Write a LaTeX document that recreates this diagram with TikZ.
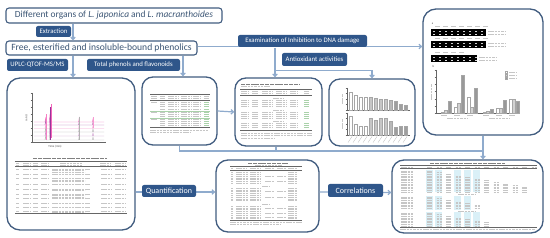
\documentclass[tikz,border=0pt]{standalone}
\usepackage{fontspec}
\setmainfont{Carlito}
\usetikzlibrary{arrows.meta}

\definecolor{tagblue}{RGB}{47,86,138}
\definecolor{frameblue}{RGB}{66,93,128}
\definecolor{linkblue}{RGB}{143,171,205}
\definecolor{headtext}{RGB}{60,86,117}
\definecolor{lightcyan}{RGB}{218,240,247}
\definecolor{paleleaf}{RGB}{170,210,170}

\tikzset{
panel/.style={draw=frameblue, line width=1.3pt, rounded corners=13pt, fill=white, inner sep=0pt},
headbox/.style={draw=frameblue, line width=1.1pt, rounded corners=3pt, fill=white, text=headtext, inner sep=0pt},
tag/.style={fill=tagblue, text=white, rounded corners=2pt, inner sep=0pt, font=\fontsize{6.8}{7}\selectfont},
link/.style={draw=linkblue, line width=1.2pt},
conn/.style={link, -{Straight Barb[length=2.5pt,width=4.5pt]}},
txt/.style={draw=gray!45, line width=0.5pt, dash pattern=on 2.5pt off 0.8pt},
captxt/.style={draw=black!50, line width=0.7pt, dash pattern=on 4pt off 0.8pt},
hrule/.style={draw=black!60, line width=0.35pt},
bar/.style={draw=gray!70, line width=0.3pt},
tiny/.style={inner sep=0pt, text=black!70, font=\fontsize{3}{3}\selectfont}
}

\begin{document}
\begin{tikzpicture}[x=1pt,y=1pt,yscale=-1]
\useasboundingbox (0,0) rectangle (550,238);

%Panels
\node[panel, minimum width=128pt, minimum height=152pt] (chrom) at (71,154) {};
\node[panel, rounded corners=11pt, minimum width=75pt, minimum height=68pt] (tphen) at (179.5,111) {};
\node[panel, rounded corners=11pt, minimum width=87pt, minimum height=68pt] (antitab) at (278.5,112) {};
\node[panel, rounded corners=11pt, minimum width=86pt, minimum height=67pt] (antibar) at (372,112.5) {};
\node[panel, minimum width=120pt, minimum height=126pt] (dna) at (483,72) {};
\node[panel, rounded corners=12pt, minimum width=103pt, minimum height=72pt] (quanttab) at (267.5,196) {};
\node[panel, rounded corners=12pt, minimum width=151pt, minimum height=73pt] (corrtab) at (467.5,196.5) {};

%Heading boxes
\node[headbox, minimum width=216pt, minimum height=15pt, font=\fontsize{9.4}{10}\selectfont] (organs) at (114,15.5) {Different organs of \textit{L. japonica} and \textit{L. macranthoides}};
\node[headbox, minimum width=191pt, minimum height=14pt, font=\fontsize{9.6}{10}\selectfont] (fractions) at (101.5,48) {Free, esterified and insoluble-bound phenolics};

%Connectors
\draw[conn] ([xshift=2pt]organs.south -| chrom.north) -- ([xshift=2pt]fractions.north -| chrom.north);
\draw[conn] ([xshift=2pt]fractions.south -| chrom.north) -- ([xshift=2pt]chrom.north);
\draw[conn] ([xshift=3.5pt]fractions.south -| tphen.north) -- ([xshift=3.5pt]tphen.north);
\draw[conn] ([yshift=-1.5pt]fractions.east) -- ([yshift=-1.5pt]fractions.east -| dna.west);
\draw[conn] ([xshift=-3.5pt]antitab.north |- fractions.east) -- ([xshift=-3.5pt]antitab.north);
\coordinate (fork) at (275,70.5);
\draw[conn] (fork) -| (antibar.north);
\draw[conn] (tphen.east) -- (antitab.west);
\coordinate (bus) at (483,151);
\draw[link] (tphen.south) |- (bus);
\draw[link] ([xshift=-2.5pt]antitab.south) -- ([xshift=-2.5pt]antitab.south |- bus);
\draw[conn] (dna.south) -- (dna.south |- corrtab.north);
\draw[conn] ([yshift=-4pt]quanttab.west -| chrom.east) -- ([yshift=-4pt]quanttab.west);
\draw[conn] ([yshift=-4pt]quanttab.east) -- ([yshift=-4pt]corrtab.west);

%Tags
\node[tag, minimum width=35pt, minimum height=11pt] (extr) at (53.5,31.5) {Extraction};
\node[tag, minimum width=61pt, minimum height=12pt] (uplc) at (37.5,65) {UPLC-QTOF-MS/MS};
\node[tag, minimum width=93pt, minimum height=12pt] (totph) at (133.5,65) {Total phenols and flavonoids};
\node[tag, minimum width=129pt, minimum height=12pt] (dnadmg) at (302.5,41) {Examination of Inhibition to DNA damage};
\node[tag, minimum width=65pt, minimum height=13pt] (antiox) at (314.5,59.5) {Antioxidant activities};
\node[tag, minimum width=54pt, minimum height=12pt, font=\fontsize{8}{9}\selectfont] (quant) at (169,191) {Quantification};
\node[tag, minimum width=55pt, minimum height=13pt, font=\fontsize{8}{9}\selectfont] (correl) at (355.5,190.5) {Correlations};

%Chromatogram
\draw[black!60, line width=0.4pt] (32,93) -- (32,142) -- (105,142);
\foreach \t in {93,100,107,114,121,128,135,142} \draw[black!60, line width=0.3pt] (30.5,\t) -- (32,\t);
\foreach \t in {32,46.6,61.2,75.8,90.4,105} \draw[black!60, line width=0.3pt] (\t,142) -- (\t,143.5);
\foreach \y/\c in {122/magenta!55, 125/violet!60, 128.5/magenta!35, 132/gray!60, 136/violet!40, 140/gray!55}
  \draw[\c, line width=0.4pt] (34,\y) -- (45,\y) -- (45.6,\y-4) -- (46.2,\y) -- (49.4,\y) -- (50,\y-8) -- (50.6,\y) -- (78.6,\y) -- (79.2,\y-4) -- (79.8,\y) -- (92.4,\y) -- (93,\y-3) -- (93.6,\y) -- (104,\y);
\draw[violet!80, line width=0.7pt] (50,140) -- (50,107);
\draw[magenta!60, line width=0.5pt] (51.5,138) -- (51.5,104);
\draw[magenta!50, line width=0.4pt] (45.7,140) -- (45.7,114);
\draw[gray!60, line width=0.4pt] (79,140) -- (79,117);
\draw[magenta!40, line width=0.4pt] (93,128) -- (93,117);
\node[tiny] (tlab) at (55,147) {Time (min)};
\node[tiny, rotate=90] (ylab) at (26.5,118) {mAU};

%Identification table
\draw[captxt] (33,158.5) -- (107,158.5);
\foreach \y in {161,166.5,213} \draw[hrule] (15,\y) -- (127,\y);
\foreach \y in {163,165} \foreach \a/\b in {16/19,23/30,33/38,41/49,60/82,100/111,115/125} \draw[txt] (\a,\y) -- (\b,\y);
\foreach \y in {169,174,178.5,184,189,194,198.5,203.5,207,211}
  \foreach \a/\b in {16/18.5,23/30,33/38,41/49,52/90,101/111,115/125} \draw[txt] (\a,\y) -- (\b,\y);
\foreach \y in {170.6,172.2,180.1,181.7,190.6,195.6,197.2,212.4} \draw[txt] (52,\y) -- (85,\y);

%Total phenols table
\foreach \y in {94,100,127.5} \draw[hrule] (150,\y) -- (210,\y);
\foreach \y in {110.8,118} \draw[paleleaf, line width=0.35pt] (150,\y) -- (210,\y);
\foreach \y in {96,98} \foreach \a/\b in {151/157,160/165,168/178,181/191,193/201,204/209} \draw[txt] (\a,\y) -- (\b,\y);
\foreach \y in {102.5,112.5,119.5} \draw[txt] (151,\y) -- (157,\y);
\foreach \y in {102.5,104.5,106.5,109,112.5,114.5,116.5,119.5,121.5,123.5,125.5} {
  \foreach \a/\b in {160/165,168/178,181/191,193/201} \draw[txt] (\a,\y) -- (\b,\y);
  \draw[txt, draw=paleleaf] (204,\y) -- (209,\y);
}
\draw[txt] (150,130) -- (208,130);
\draw[txt] (150,132.5) -- (190,132.5);

%Antioxidant table
\draw[captxt] (241,84) -- (300,84);
\draw[txt] (241,86.5) -- (270,86.5);
\foreach \y in {89,95.5,130} \draw[hrule] (240,\y) -- (312,\y);
\foreach \y in {91.5,93.5} \foreach \a/\b in {241/248,252/258,262/272,276/286,290/298,304/309} \draw[txt] (\a,\y) -- (\b,\y);
\foreach \y in {98,110,121} \draw[txt] (273,\y) -- (283,\y);
\foreach \y in {100.5,102.5,104.5,106.5,112.5,114.5,116.5,118.5,123.5,125.5,127.5} {
  \foreach \a/\b in {241/248,252/258,262/272,276/286,290/298} \draw[txt] (\a,\y) -- (\b,\y);
  \draw[txt, draw=paleleaf] (304,\y) -- (309,\y);
}
\foreach \y/\b in {133/312,135.5/312,138/275} \draw[txt] (241,\y) -- (\b,\y);

%Antioxidant bar charts
\foreach \base/\top in {110/88,135/113} {
  \draw[black!60, line width=0.4pt] (347,\top) -- (347,\base) -- (410,\base);
  \foreach \k in {0,...,4} \draw[black!60, line width=0.3pt] (345.5,\top+5.5*\k) -- (347,\top+5.5*\k);
  \draw[txt] (342,\base-6) -- (342,\base-16);
}
\foreach \i/\h/\c in {1/92/white,2/95/white,3/97/white,4/97/white,5/97/gray!45,6/98/gray!45,7/99/gray!45,8/99/gray!45,9/100/gray!55,10/101/gray!75,11/104/gray!75,12/105/gray!75}
  \filldraw[bar, fill=\c] (344.5+5*\i,110) rectangle ++(3,\h-110);
\foreach \i/\h/\c in {1/116/white,2/124/white,3/126/white,4/126/white,5/118/gray!45,6/120/gray!45,7/118/gray!45,8/118/gray!45,9/121/gray!55,10/127/gray!75,11/126/gray!75,12/126/gray!75}
  \filldraw[bar, fill=\c] (344.5+5*\i,135) rectangle ++(3,\h-135);
\foreach \i in {1,...,12} \draw[txt, dash pattern=on 1.5pt off 0.5pt] (347+5*\i,136.5) -- ++(-4,6);

%DNA gels
\node[tiny] (pa) at (432.5,24) {a};
\foreach \y/\r/\n in {29/486/7,41/486/7,55/477/4} {
  \fill[black] (431,\y) rectangle (\r,\y+7.5);
  \foreach \k in {1,...,\n} \draw[txt] (427+8*\k,\y-2.5) -- ++(5,0);
  \foreach \x in {433,439,...,\r} {
    \draw[gray!40, line width=0.4pt] (\x,\y+2.5) -- ++(2,0);
    \draw[gray!25, line width=0.4pt] (\x,\y+5.5) -- ++(2,0);
  }
  \draw[txt] (\r+2,\y+2.5) -- ++(18,0);
  \draw[txt] (\r+2,\y+5.5) -- ++(18,0);
}

%DNA damage bar chart
\node[tiny] (pb) at (433.5,66) {b};
\draw[black!60, line width=0.4pt] (436,70) -- (436,113) -- (520,113);
\foreach \k in {0,...,6} \draw[black!60, line width=0.3pt] (434.5,70+7.17*\k) -- (436,70+7.17*\k);
\draw[txt] (431,100) -- (431,84);
\foreach \x/\h/\c in {441/112/white,444.5/110/gray!35,448/101/gray!80,454/107/white,457.5/103/gray!35,461/75/gray!80,467/97/white,470.5/107/gray!35,474/88/gray!80,483/112.3/white,486.5/111/gray!35,490/109/gray!80,496/108/white,499.5/108/gray!35,503/100/gray!80,509/99/white,512.5/99/gray!35,516/101/gray!80}
  \filldraw[bar, fill=\c] (\x,113) rectangle (\x+3,\h);
\foreach \y/\c in {72/white,75/gray!35,78/gray!80} {
  \filldraw[bar, fill=\c] (505,\y-1) rectangle ++(2.5,2);
  \draw[txt] (509,\y) -- (516,\y);
}
\foreach \x in {444,457,470,486,499,512} \draw[txt] (\x-3,115.5) -- (\x+3,115.5);
\draw[txt] (447,118.5) -- (468,118.5);
\draw[txt] (489,118.5) -- (510,118.5);

%Quantification table
\draw[captxt] (248,163) -- (288,163);
\draw[txt] (255,165) -- (282,165);
\foreach \y in {166.5,170.5,220.5} \draw[hrule] (230,\y) -- (302,\y);
\foreach \a/\b in {231/233,236/246,250/260,265/274,277/286,288/297} \draw[txt] (\a,168.5) -- (\b,168.5);
\foreach \y in {186,204} \draw[txt] (262,\y) -- (270,\y);
\foreach \y in {172.5,174.3,176.1,177.9,179.7,181.5,183.3,188,189.8,191.6,193.4,195.2,197,198.8,200.6,206,207.8,209.6,211.4,213.2,215,216.8,218.6}
  \foreach \a/\b in {231/233,236/248,250/261,288/297} \draw[txt] (\a,\y) -- (\b,\y);
\foreach \y in {176.1,181.5,191.6,197,207.8,213.2,216.8} \foreach \a/\b in {265/274,277/286} \draw[txt] (\a,\y) -- (\b,\y);
\draw[txt] (230,222.5) -- (302,222.5);
\draw[txt] (230,224.5) -- (280,224.5);

%Correlation table
\foreach \c in {0,1,3,4,5} \fill[lightcyan] (425.5+9.5*\c,170) rectangle ++(7,22.5);
\foreach \c in {0,1,3,4} \fill[lightcyan] (425.5+9.5*\c,196) rectangle ++(7,14);
\foreach \c in {0,1,3,4,5} \fill[lightcyan] (425.5+9.5*\c,212) rectangle ++(7,15);
\draw[captxt] (430,163.5) -- (505,163.5);
\foreach \y in {165.5,168.5,227.5} \draw[hrule] (400,\y) -- (537,\y);
\draw[txt] (401,167) -- (414,167);
\foreach \c in {0,...,11} \draw[txt] (427+9.5*\c,167) -- ++(5,0);
\foreach \s/\n/\m in {171/13/10,197/7/5,213/8/6} {
  \foreach \k in {0,...,\n} {
    \draw[txt] (401,\s+1.6*\k) -- ++(13,0);
    \pgfmathtruncatemacro\q{min(\k,\m)}
    \foreach \c in {0,...,\q} \draw[txt] (427+9.5*\c,\s+1.6*\k) -- ++(5,0);
  }
}
\foreach \y in {194,211} \draw[txt] (458,\y) -- (476,\y);
\draw[txt] (400,229.5) -- (535,229.5);

\end{tikzpicture}
\end{document}
